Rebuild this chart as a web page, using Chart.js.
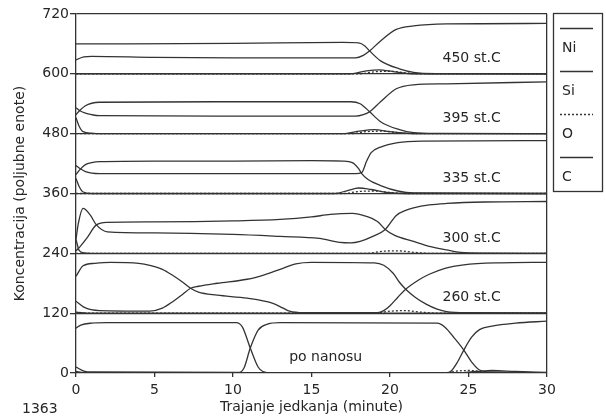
<!DOCTYPE html>
<html>
<head>
<meta charset="utf-8">
<script src="https://cdn.jsdelivr.net/npm/chart.js@4.4.0/dist/chart.umd.min.js"></script>
<style>
  html, body { margin: 0; padding: 0; background: #fff; }
  #wrap { width: 606px; height: 417px; position: relative; }
</style>
</head>
<body>
<div id="wrap"><canvas id="chart" width="606" height="417"></canvas></div>
<script>
/* ---------- Data ---------- */
const xTicks = [0, 5, 10, 15, 20, 25, 30];
const yTicks = [0, 120, 240, 360, 480, 600, 720];
const elements = ["Ni", "Si", "O", "C"];
const panelNames = ["po nanosu", "260 st.C", "300 st.C", "335 st.C", "395 st.C", "450 st.C"];
const offsets = [0, 120, 240, 360, 480, 600];

// profiles: [minute, concentration inside the panel]
// po nanosu
const niPo = [[0,12],[0.5,4],[1,2],[10.4,1],[10.7,10],[11.1,50],[11.6,86],[12.2,98],[13,101],[23,100],[23.5,92],[24.1,70],[24.7,46],[25.2,22],[25.7,6],[26.5,2],[30,0.5]];
const siPo = [[0,90],[0.3,96],[1,100],[2,101],[10.2,101],[10.6,92],[11.1,50],[11.6,12],[11.9,3],[12.5,0.5],[23.6,0.5],[23.9,4],[24.3,22],[24.7,46],[25.2,72],[25.7,87],[26.5,94],[28,100],[30,104]];
const oPo = [[0,0],[23.5,0],[24.3,4],[25,5],[25.8,3],[26.5,0],[30,0]];
const cPo = [[0,3],[0.5,1],[1,0],[24,0],[25.5,3],[26.5,5],[28,3],[30,1]];
// 260 st.C
const ni260 = [[0,24],[0.5,12],[1.5,5],[4.7,4],[5.5,10],[6.2,24],[6.8,38],[7.3,50],[7.8,54],[9,60],[10.9,68],[12,77],[13,88],[14,99],[15,102],[19,101],[19.6,96],[20.2,80],[20.6,62],[21,48],[21.6,32],[22.3,18],[23,8],[23.6,3],[25,1],[30,0.5]];
const si260 = [[0,74],[0.45,95],[1.2,100],[2.2,102],[4,100],[4.7,96],[5.5,88],[6.2,75],[6.8,62],[7.3,50],[7.8,42],[9,36],[10.9,30],[12.5,20],[13.2,10],[13.6,4],[14.5,1],[19.2,1],[19.6,5],[20,15],[20.5,32],[21,48],[21.8,66],[22.5,78],[23.5,90],[24.7,97],[27,101],[30,102]];
const o260 = [[0,0],[19,0],[20,4],[21,5],[22,2],[23,0],[30,0]];
const c260 = [[0,2],[1,0],[30,0]];
// 300 st.C
const ni300 = [[0,5],[0.3,15],[0.7,31],[1.3,57],[2,62],[5,63],[10,65],[13,68],[15,73],[16.2,78],[17.6,80],[18.5,74],[19.2,64],[19.7,48],[20.3,36],[21.5,24],[22.5,14],[23.6,7],[24.5,2],[26,0.5],[30,0]];
const si300 = [[0,28],[0.15,60],[0.45,90],[0.9,77],[1.3,57],[2,43],[5,41],[10,38],[13,34],[15.5,30],[16.8,22],[17.5,21],[18.1,24],[18.9,34],[19.7,48],[20.4,76],[21,86],[21.5,91],[22.5,97],[23.6,100],[26,103],[30,104]];
const o300 = [[0,0],[18.5,0],[19.5,4],[20.5,5],[21.5,2],[22.5,0],[30,0]];
const c300 = [[0,28],[0.2,6],[0.5,1],[1,0],[30,0]];
// 335 st.C
const ni335 = [[0,38],[0.25,48],[0.6,58],[1,62],[1.5,64],[5,65],[10,65],[15,66],[17,65],[17.6,62],[18,50],[18.2,40],[18.6,28],[19.4,16],[20.5,5],[21.5,1],[30,0]];
const si335 = [[0,56],[0.25,50],[0.6,44],[1,41],[1.5,40],[10,40],[17.8,40],[18.2,42],[18.5,64],[18.8,82],[19.4,93],[20.5,102],[22,105],[30,106]];
const o335 = [[0,0],[17,0],[18,4],[19,5],[20,2],[21,0],[30,0]];
const c335 = [[0,30],[0.2,14],[0.45,3],[1,0],[16.5,0],[17.3,6],[18,11],[18.8,8],[19.8,2],[21,0],[30,0]];
// 395 st.C
const ni395 = [[0,38],[0.25,47],[0.6,56],[1,61],[1.5,63],[10,64],[17.5,64],[18.1,60],[18.7,44],[19.4,24],[20.6,8],[21.5,2],[23,0.5],[30,0]];
const si395 = [[0,52],[0.25,46],[0.6,41],[1,38],[1.5,36],[10,35],[17.8,35],[18.3,38],[18.7,44],[19.4,64],[20.4,90],[21.5,98],[23.6,100],[30,104]];
const o395 = [[0,0],[17.5,0],[18.5,4],[19.5,5],[20.5,2],[21.5,0],[30,0]];
const c395 = [[0,32],[0.2,15],[0.45,4],[1,1],[1.5,0],[17,0],[18,5],[19,8],[20,4],[21,1],[22,0],[30,0]];
// 450 st.C
const ni450 = [[0,60],[10,61],[17,63],[18,62],[18.4,56],[18.7,46],[19.4,26],[20.6,10],[21.5,3],[23,0.5],[30,0]];
const si450 = [[0,28],[0.5,34],[1,35],[5,33],[10,32],[17.8,32],[18.3,37],[18.7,46],[19.4,66],[20.4,89],[21.5,96],[23.6,100],[30,101]];
const o450 = [[0,0],[18,0],[19,4],[20,5],[21,2],[22,0],[30,0]];
const c450 = [[0,0],[17.5,0],[18.5,6],[19.3,8],[20.3,4],[21.5,0],[30,0]];

const profiles = [
  [niPo, siPo, oPo, cPo],
  [ni260, si260, o260, c260],
  [ni300, si300, o300, c300],
  [ni335, si335, o335, c335],
  [ni395, si395, o395, c395],
  [ni450, si450, o450, c450]
];

/* ---------- Style ---------- */
const INK = "#333";
const TEXT = "#262626";
const FONT = "'DejaVu Sans', 'Liberation Sans', sans-serif";
Chart.defaults.font.family = FONT;
Chart.defaults.font.size = 14;
Chart.defaults.color = TEXT;

/* ---------- Datasets ---------- */
const datasets = [];
profiles.forEach((set, p) => {
  set.forEach((curve, e) => {
    datasets.push({
      label: elements[e] + " " + panelNames[p],
      data: curve.map(([x, v]) => ({ x, y: offsets[p] + v })),
      borderColor: INK,
      borderWidth: 1.3,
      borderDash: elements[e] === "O" ? [2, 2] : [],
      pointRadius: 0,
      cubicInterpolationMode: "monotone",
      fill: false
    });
  });
});

/* panel captions inside each band */
const panelText = {
  id: "panelText",
  afterDatasetsDraw(chart) {
    const { ctx, scales: { x, y } } = chart;
    ctx.save();
    ctx.font = "14px " + FONT;
    ctx.fillStyle = TEXT;
    ctx.textAlign = "center";
    ctx.textBaseline = "middle";
    panelNames.forEach((name, i) => {
      const xv = i === 0 ? 15.9 : 25.2;
      ctx.fillText(name, x.getPixelForValue(xv), y.getPixelForValue(offsets[i] + 31));
    });
    // figure number under the axis
    ctx.textAlign = "left";
    ctx.fillText("1363", 22, 409);
    ctx.restore();
  }
};

/* boxed legend to the right of the plot */
const sideLegend = {
  id: "sideLegend",
  afterDraw(chart) {
    const { ctx } = chart;
    const left = 553, top = 13, w = 49, h = 178;
    ctx.save();
    ctx.strokeStyle = INK;
    ctx.lineWidth = 1.3;
    ctx.strokeRect(left + 0.5, top + 0.5, w, h);
    ctx.font = "14px " + FONT;
    ctx.fillStyle = TEXT;
    ctx.textBaseline = "middle";
    elements.forEach((name, i) => {
      const ly = top + 15 + i * 43;
      ctx.setLineDash(name === "O" ? [2, 2] : []);
      ctx.beginPath();
      ctx.moveTo(left + 7, ly + 0.5);
      ctx.lineTo(left + 40, ly + 0.5);
      ctx.stroke();
      ctx.fillText(name, left + 9, ly + 20);
    });
    ctx.restore();
  }
};

new Chart(document.getElementById("chart"), {
  type: "line",
  data: { datasets },
  options: {
    responsive: false,
    devicePixelRatio: 1,
    animation: false,
    layout: { padding: { top: 14, right: 59, bottom: 0, left: 0 } },
    plugins: { legend: { display: false }, tooltip: { enabled: false } },
    scales: {
      x: {
        type: "linear",
        min: 0,
        max: 30,
        afterFit(s) { s.height = 44; },
        afterBuildTicks(s) { s.ticks = xTicks.map(v => ({ value: v })); },
        ticks: { padding: 5, color: TEXT },
        grid: {
          color: c => (c.tick && c.tick.value === 30 ? INK : "rgba(0,0,0,0)"),
          tickColor: INK,
          tickLength: 4,
          lineWidth: 1.3
        },
        border: { display: false },
        title: { display: true, text: "Trajanje jedkanja (minute)", color: TEXT, padding: { top: 0, bottom: 1 } }
      },
      y: {
        min: 0,
        max: 720,
        afterFit(s) { s.width = 76; },
        afterBuildTicks(s) { s.ticks = yTicks.map(v => ({ value: v })); },
        ticks: { padding: 1, color: TEXT },
        grid: { color: INK, lineWidth: 1.3, tickLength: 6 },
        border: { display: true, color: INK, width: 1.3 },
        title: { display: true, text: "Koncentracija (poljubne enote)", color: TEXT, padding: { top: 12, bottom: 0 } }
      }
    }
  },
  plugins: [panelText, sideLegend]
});
</script>
</body>
</html>
